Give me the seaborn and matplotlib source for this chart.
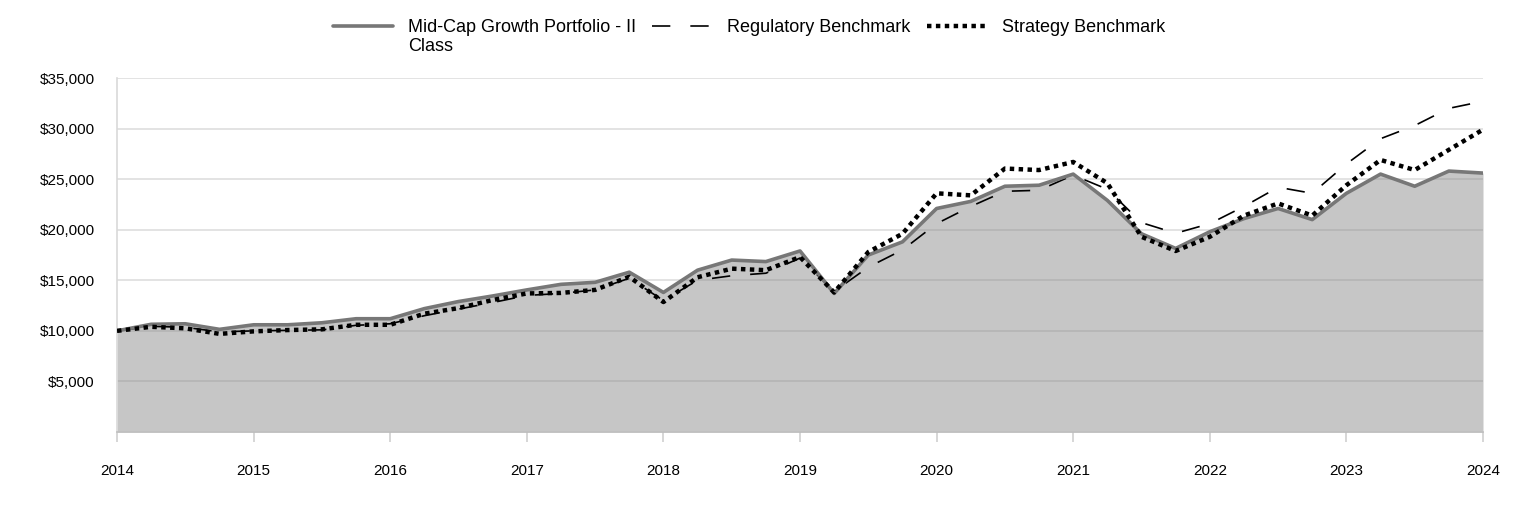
import seaborn as sns
import matplotlib.pyplot as plt
import numpy as np
import pandas as pd
from matplotlib.ticker import FuncFormatter

# quarterly values, 2014 Q1 start to 2024
quarters = np.arange(41) / 4 + 2014
portfolio = [10000, 10650, 10700, 10150, 10600, 10600, 10800, 11200, 11200, 12200,
             12900, 13450, 14050, 14600, 14800, 15800, 13800, 16000, 17000, 16850,
             17900, 13700, 17500, 18800, 22100, 22800, 24300, 24400, 25500, 22900,
             19600, 18150, 19800, 21100, 22100, 21000, 23600, 25500, 24300, 25800,
             25600]
regulatory = [10000, 10450, 10350, 9900, 10000, 10050, 10100, 10550, 10700, 11500,
              12150, 12800, 13500, 13700, 14050, 15200, 13000, 15000, 15450, 15700,
              17200, 13900, 16300, 18000, 20600, 22300, 23800, 23900, 25400, 24000,
              20700, 19650, 20600, 22300, 24200, 23600, 26500, 29000, 30300, 32000,
              32700]
strategy = [10000, 10400, 10250, 9700, 9950, 10080, 10150, 10600, 10600, 11700,
            12250, 13050, 13700, 13750, 14050, 15350, 12850, 15300, 16150, 16000,
            17300, 13800, 17800, 19600, 23600, 23400, 26050, 25900, 26700, 24600,
            19300, 17900, 19300, 21400, 22600, 21400, 24400, 26900, 25900, 27900,
            29900]
year_ticks = list(range(2014, 2025))
value_ticks = [5000, 10000, 15000, 20000, 25000, 30000, 35000]

df = pd.DataFrame({"date": quarters, "portfolio": portfolio,
                   "regulatory": regulatory, "strategy": strategy})

sns.set_theme(style="whitegrid")
plt.rcParams["font.family"] = ["Liberation Sans", "DejaVu Sans"]

fig = plt.figure(figsize=(15.24, 5.16), dpi=100)
ax = fig.add_axes([0.0768, 0.1628, 0.8963, 0.686])

ax.fill_between(df["date"], 0, df["portfolio"], color="#888888", alpha=0.48,
                linewidth=0, zorder=1)
sns.lineplot(data=df, x="date", y="portfolio", ax=ax, color="#777777", linewidth=2.6,
             label="Mid-Cap Growth Portfolio - II", zorder=4)
sns.lineplot(data=df, x="date", y="regulatory", ax=ax, color="black", linewidth=1.2,
             label="Regulatory Benchmark", zorder=3)
sns.lineplot(data=df, x="date", y="strategy", ax=ax, color="black", linewidth=3.2,
             label="Strategy Benchmark", zorder=5)
ax.lines[1].set_dashes((11, 12))
ax.lines[2].set_linestyle((0, (1, 1)))

ax.set_xlim(2014, 2024)
ax.set_ylim(0, 35000)
ax.set_xticks(year_ticks)
ax.set_yticks(value_ticks)
ax.yaxis.set_major_formatter(FuncFormatter(lambda v, p: f"${v:,.0f}"))
ax.set_xlabel("")
ax.set_ylabel("")

ax.set_axisbelow(True)
ax.grid(axis="x", visible=False)
ax.grid(axis="y", color="#e0e0e0", linewidth=1.3)
for side in ["top", "right"]:
    ax.spines[side].set_visible(False)
ax.spines["left"].set_color("#d9d9d9")
ax.spines["bottom"].set_color("#bfbfbf")
ax.spines["left"].set_linewidth(1.2)
ax.spines["bottom"].set_linewidth(1.2)
ax.tick_params(axis="x", bottom=True, length=7, width=1.2, color="#d0d0d0",
               pad=16, labelsize=11, labelcolor="black")
ax.tick_params(axis="y", left=False, pad=10, labelsize=11, labelcolor="black")

ax.get_legend().remove()
handles, labels = ax.get_legend_handles_labels()
leg = fig.legend(handles, labels, loc="center", bbox_to_anchor=(0.4915, 0.946), ncol=3,
                 frameon=False, fontsize=13, handlelength=3.3, handletextpad=0.85,
                 columnspacing=0.9, labelcolor="black")

# second line of the first legend label, under its first line
fig.canvas.draw()
bb = leg.get_texts()[0].get_window_extent().transformed(fig.transFigure.inverted())
fig.text(bb.x0, bb.y0 - 0.004, "Class", fontsize=13, ha="left", va="top", color="black")

fig.savefig("out.png", dpi=100)
